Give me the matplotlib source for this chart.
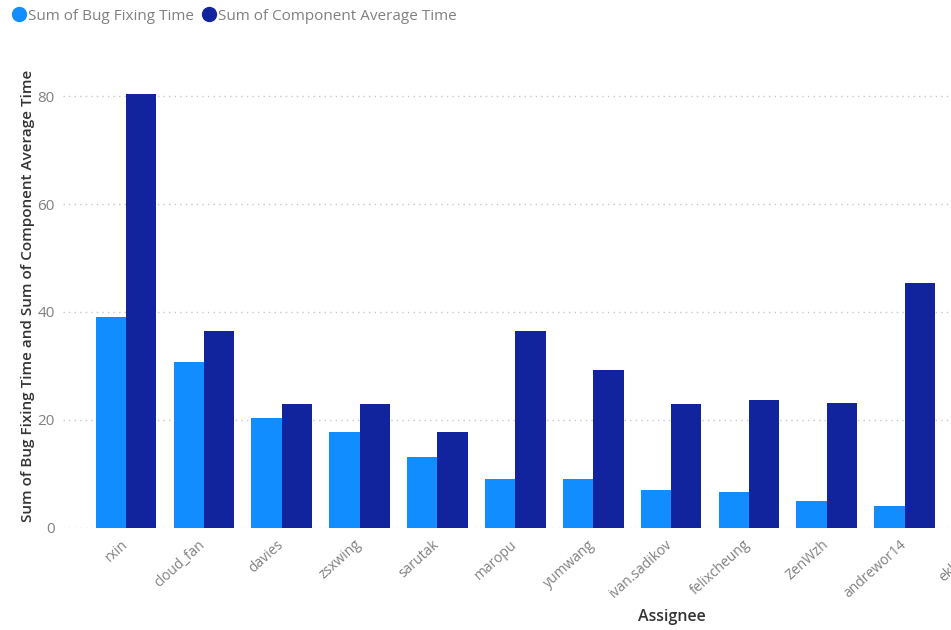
import matplotlib.pyplot as plt
import numpy as np
from matplotlib.lines import Line2D

plt.rcParams["font.family"] = ["Open Sans", "DejaVu Sans"]

assignees = [
    "rxin", "cloud_fan", "davies", "zsxwing", "sarutak", "maropu",
    "yumwang", "ivan.sadikov", "felixcheung", "ZenWzh", "andrewor14", "ekhliang",
]
bug_fixing_time = [39.0, 30.8, 20.3, 17.8, 13.0, 9.0, 9.0, 7.0, 6.5, 5.0, 4.0]
component_avg_time = [80.5, 36.4, 23.0, 23.0, 17.7, 36.4, 29.3, 23.0, 23.7, 23.1, 45.3]

LIGHT = "#118DFF"
DARK = "#12239E"
GREY = "#808080"

fig = plt.figure(figsize=(9.51, 6.30), dpi=100)
# axes runs past the right edge: the last category is cut off in the reference
ax = fig.add_axes([63 / 951, 102.5 / 630, 1030 / 951 - 63 / 951, 463.5 / 630])

n = len(bug_fixing_time)
x = np.arange(n)
w = 0.39
ax.bar(x - w / 2, bug_fixing_time, width=w, color=LIGHT, linewidth=0)
ax.bar(x + w / 2, component_avg_time, width=w, color=DARK, linewidth=0)

ax.set_xlim(-0.81, 11.61)
ax.set_ylim(0, 86)
ax.set_yticks([0, 20, 40, 60, 80])
ax.yaxis.grid(True, color="#c8c8c8", linestyle=(0, (1, 3)), linewidth=1)
ax.set_axisbelow(True)
for s in ax.spines.values():
    s.set_visible(False)

ax.set_xticks(np.arange(len(assignees)) - 0.07)
ax.set_xticklabels(assignees, rotation=42, ha="right", va="top",
                   rotation_mode="anchor", fontsize=10, color=GREY)
ax.tick_params(axis="both", length=0)
ax.tick_params(axis="x", pad=7)
ax.tick_params(axis="y", labelsize=11, labelcolor=GREY, pad=6)

ax.set_ylabel("Sum of Bug Fixing Time and Sum of Component Average Time",
              fontsize=11, color="#333333", fontweight="semibold", labelpad=2)
fig.text(672 / 951, 1 - 617 / 630, "Assignee", fontsize=11.5, color="#333333",
         fontweight="semibold", ha="center", va="center")

handles = [
    Line2D([], [], marker="o", linestyle="none", markersize=10, color=LIGHT),
    Line2D([], [], marker="o", linestyle="none", markersize=10, color=DARK),
]
fig.legend(handles, ["Sum of Bug Fixing Time", "Sum of Component Average Time"],
           loc="upper left", bbox_to_anchor=(-0.002, 1.008), ncol=2, frameon=False,
           fontsize=11, labelcolor=GREY, handletextpad=0.05, columnspacing=0.5,
           handlelength=1.0)

fig.savefig("out.png", dpi=100)
